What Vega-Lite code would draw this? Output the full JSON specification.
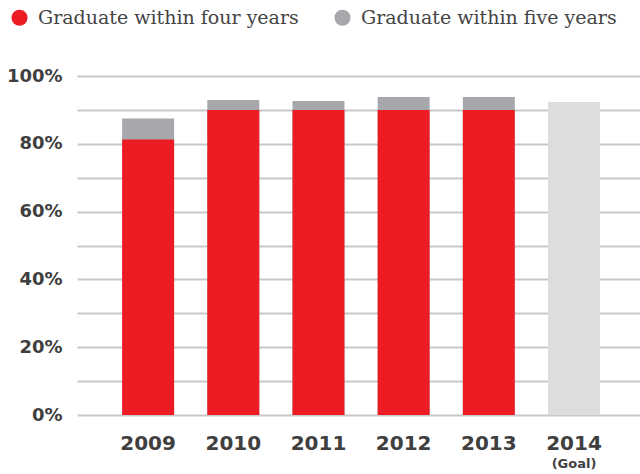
{
  "$schema": "https://vega.github.io/schema/vega-lite/v6.json",
  "width": 563,
  "height": 339,
  "autosize": {"type": "none"},
  "padding": {"left": 77, "top": 76, "right": 0, "bottom": 59},
  "background": "white",
  "config": {
    "view": {"stroke": null},
    "font": "DejaVu Sans",
    "axisY": {"gridColor": "#C8C8C8", "gridWidth": 2, "domain": false, "ticks": false, "labelFont": "DejaVu Sans", "labelFontWeight": "bold", "labelFontSize": 18, "labelColor": "#3f3f3f", "labelPadding": 15}
  },
  "datasets": {
    "rates": [
      {"year": "2009", "series": "Graduate within five years", "rate": 87.5},
      {"year": "2010", "series": "Graduate within five years", "rate": 92.9},
      {"year": "2011", "series": "Graduate within five years", "rate": 92.6},
      {"year": "2012", "series": "Graduate within five years", "rate": 93.8},
      {"year": "2013", "series": "Graduate within five years", "rate": 93.8},
      {"year": "2009", "series": "Graduate within four years", "rate": 81.3},
      {"year": "2010", "series": "Graduate within four years", "rate": 90.0},
      {"year": "2011", "series": "Graduate within four years", "rate": 90.0},
      {"year": "2012", "series": "Graduate within four years", "rate": 90.0},
      {"year": "2013", "series": "Graduate within four years", "rate": 90.0}
    ],
    "goal": [
      {"year": "2014", "series": "Goal", "rate": 92.3}
    ]
  },
  "layer": [
    {
      "data": {"name": "rates"},
      "mark": {"type": "bar"},
      "encoding": {
        "x": {
          "field": "year", "type": "nominal", "sort": null,
          "scale": {"domain": ["2009", "2010", "2011", "2012", "2013", "2014"], "paddingInner": 0.39, "paddingOuter": 0.5, "align": 0.53},
          "axis": {"orient": "bottom", "title": null, "labelAngle": 0, "domain": false, "ticks": false, "grid": false, "labelFont": "DejaVu Sans", "labelFontWeight": "bold", "labelFontSize": 20, "labelColor": "#3f3f3f", "labelPadding": 18}
        },
        "y": {
          "field": "rate", "type": "quantitative", "stack": null,
          "scale": {"domain": [0, 100], "nice": false},
          "axis": {"title": null, "grid": true, "values": [0, 10, 20, 30, 40, 50, 60, 70, 80, 90, 100], "labelExpr": "datum.value % 20 == 0 ? datum.value + '%' : ''"}
        },
        "color": {
          "field": "series", "type": "nominal",
          "scale": {"domain": ["Graduate within four years", "Graduate within five years"], "range": ["#ED1C24", "#A7A8AB"]},
          "legend": {"title": null, "orient": "none", "legendX": -67, "legendY": -68, "direction": "horizontal", "symbolType": "circle", "symbolSize": 256, "symbolStrokeWidth": 0, "symbolOpacity": 1, "labelFont": "DejaVu Serif", "labelFontSize": 19, "labelColor": "#444444", "labelOffset": 9, "columnPadding": 34, "labelLimit": 0}
        }
      }
    },
    {
      "data": {"name": "goal"},
      "mark": {"type": "bar", "color": "#DCDDDE"},
      "encoding": {
        "x": {
          "field": "year", "type": "nominal", "sort": null,
          "axis": {"orient": "bottom", "title": null, "labelAngle": 0, "domain": false, "ticks": false, "grid": false, "labelFont": "DejaVu Sans", "labelFontWeight": "bold", "labelFontSize": 13, "labelColor": "#3f3f3f", "labelPadding": 42, "labelExpr": "datum.value == '2014' ? '(Goal)' : ''"}
        },
        "y": {
          "field": "rate", "type": "quantitative", "stack": null,
          "axis": {"title": null, "grid": true, "values": [0, 10, 20, 30, 40, 50, 60, 70, 80, 90, 100], "labelExpr": "datum.value % 20 == 0 ? datum.value + '%' : ''"}
        }
      }
    }
  ],
  "resolve": {"axis": {"x": "independent"}}
}
